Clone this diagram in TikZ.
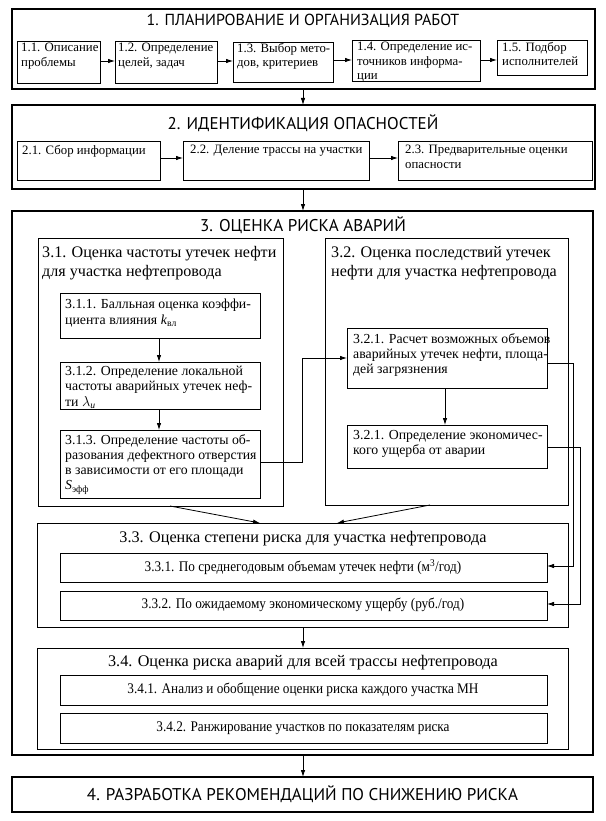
\documentclass[tikz,border=0pt]{standalone}
\usepackage{fontspec}
\setmainfont{Liberation Serif}
\newfontfamily\hfont{PT Sans}
\newfontfamily\nfont[FakeStretch=0.9]{Liberation Serif}
\usetikzlibrary{arrows.meta}
\tikzset{
  bx/.style={draw, line width=0.9pt, inner sep=0pt, outer sep=0pt},
  obx/.style={draw, line width=1.2pt, inner sep=0pt, outer sep=0pt},
  tx/.style={inner sep=0pt, anchor=north west, align=left, font=\fontsize{12.8}{14.5}\selectfont},
  tb/.style={inner sep=0pt, anchor=north west, align=left, font=\fontsize{13.8}{15.3}\selectfont},
  tt/.style={inner sep=0pt, anchor=north west, align=left, font=\fontsize{16.1}{19}\selectfont},
  tm/.style={inner sep=0pt, font=\fontsize{16.2}{18}\selectfont},
  tn/.style={inner sep=0pt, font=\nfont\fontsize{14.7}{16}\selectfont},
  hd/.style={inner sep=0pt, font=\hfont\fontsize{17}{19}\selectfont},
  arr/.style={line width=0.8pt, -{Latex[length=7pt,width=4.5pt]}},
}
\newcommand\bx[6][bx]{\node[#1, minimum width={#4-#2}, minimum height={#5-#3}] (#6) at ({(#2+#4)/2},{(#3+#5)/2}) {};}
\begin{document}
\begin{tikzpicture}[x=1pt,y=-1pt]
\useasboundingbox (0,0) rectangle (605,821);
\fill[white] (0,0) rectangle (605,821);
% ---------- section 1
\bx[obx]{12}{9}{595}{89}{s1}
\node[hd, font=\hfont\fontsize{16}{19}\selectfont] (t1) at (303,21) {1. ПЛАНИРОВАНИЕ И ОРГАНИЗАЦИЯ РАБОТ};
\bx{17}{41}{100}{83}{b11}
\bx{115}{41}{217}{83}{b12}
\bx{233}{42}{333}{82}{b13}
\bx{352}{40}{480}{81}{b14}
\bx{497}{40}{587}{75}{b15}
\node[tx] (x11) at (21,43) {1.1. Описание\\проблемы};
\node[tx] (x12) at (118,43) {1.2. Определение\\целей, задач};
\node[tx] (x13) at (237,43) {1.3. Выбор мето-\\дов, критериев};
\node[tx] (x14) at (357,42) {1.4. Определение ис-\\точников информа-\\ции};
\node[tx] (x15) at (502,42) {1.5. Подбор\\исполнителей};
% ---------- section 2
\bx[obx]{12}{105}{595}{189}{s2}
\node[hd] (t2) at (303,123) {2. ИДЕНТИФИКАЦИЯ ОПАСНОСТЕЙ};
\bx{17}{141}{160}{180}{b21}
\bx{183}{141}{369}{180}{b22}
\bx{398}{141}{592}{180}{b23}
\node[tx] (x21) at (22,145) {2.1. Сбор информации};
\node[tx] (x22) at (190,145) {2.2. Деление трассы на участки};
\node[tx] (x23) at (405,145) {2.3. Предварительные оценки\\опасности};
% ---------- section 3
\bx[obx]{12}{211}{593}{755}{s3}
\node[hd] (t3) at (303,225) {3. ОЦЕНКА РИСКА АВАРИЙ};
\bx{38}{238}{283}{506}{b31}
\node[tt] (x31) at (42,246) {3.1. Оценка частоты утечек нефти\\для участка нефтепровода};
\bx{60}{293}{260}{338}{b311}
\bx{60}{362}{260}{409}{b312}
\bx{60}{430}{260}{498}{b313}
\node[tb] (x311) at (65,299) {3.1.1. Балльная оценка коэффи-\\циента влияния \textit{k}\textsubscript{вл}};
\node[tb] (x312) at (65,366) {3.1.2. Определение локальной\\частоты аварийных утечек неф-\\ти $\lambda$\textsubscript{\textit{и}}};
\node[tb] (x313) at (65,434) {3.1.3. Определение частоты об-\\разования дефектного отверстия\\в зависимости от его площади\\\textit{S}\textsubscript{эфф}};
\bx{325}{238}{568}{505}{b32}
\node[tt] (x32) at (331,246) {3.2. Оценка последствий утечек\\нефти для участка нефтепровода};
\bx{347}{328}{547}{388}{b321}
\bx{347}{425}{547}{468}{b322}
\node[tb] (x321) at (353,333) {3.2.1. Расчет возможных объемов\\аварийных утечек нефти, площа-\\дей загрязнения};
\node[tb] (x322) at (353,430) {3.2.1. Определение экономичес-\\кого ущерба от аварии};
% 3.3
\bx{37}{523}{568}{627}{b33}
\node[tm] (x33) at (303,539) {3.3. Оценка степени риска для участка нефтепровода};
\bx{60}{553}{547}{582}{b331}
\bx{60}{591}{547}{620}{b332}
\node[tn] (x331) at (303,567) {3.3.1. По среднегодовым объемам утечек нефти (м\textsuperscript{3}/год)};
\node[tn] (x332) at (303,605) {3.3.2. По ожидаемому экономическому ущербу (руб./год)};
% 3.4
\bx{37}{648}{568}{749}{b34}
\node[tm] (x34) at (303,663) {3.4. Оценка риска аварий для всей трассы нефтепровода};
\bx{60}{675}{547}{705}{b341}
\bx{60}{713}{547}{743}{b342}
\node[tn] (x341) at (303,690) {3.4.1. Анализ и обобщение оценки риска каждого участка МН};
\node[tn] (x342) at (303,728) {3.4.2. Ранжирование участков по показателям риска};
% ---------- section 4
\node[obx, hd, minimum width=581, minimum height=35] (s4) at (302.5,794.5) {4. РАЗРАБОТКА РЕКОМЕНДАЦИЙ ПО СНИЖЕНИЮ РИСКА};
% ---------- connectors
\draw[arr] (b11.east |- 0,61) -- (b12.west |- 0,61);
\draw[arr] (b12.east |- 0,61) -- (b13.west |- 0,61);
\draw[arr] (b13.east |- 0,60) -- (b14.west |- 0,60);
\draw[arr] (b14.east |- 0,60) -- (b15.west |- 0,60);
\draw[arr] (s1.south -| 303,0) -- (s2.north -| 303,0);
\draw[arr] (b21.east |- 0,158) -- (b22.west |- 0,158);
\draw[arr] (b22.east |- 0,158) -- (b23.west |- 0,158);
\draw[arr] (s2.south -| 303,0) -- (s3.north -| 303,0);
\draw[arr] (b311.south -| 159,0) -- (b312.north -| 159,0);
\draw[arr] (b312.south -| 159,0) -- (b313.north -| 159,0);
\draw[arr] (b321.south -| 445,0) -- (b322.north -| 445,0);
\draw[arr] (b313.east |- 0,462) -| (302,358) -- (b321.west |- 0,358);
\draw[arr] (b321.east |- 0,363) -| (573,566) -- (b331.east |- 0,566);
\draw[arr] (b322.east |- 0,447) -| (580,604) -- (b332.east |- 0,604);
\draw[arr] (b31.south -| 170,0) -- (b33.north -| 260,0);
\draw[arr] (b32.south -| 430,0) -- (b33.north -| 337,0);
\draw[arr] (b33.south -| 303,0) -- (b34.north -| 303,0);
\draw[arr] (s3.south -| 303,0) -- (s4.north -| 303,0);
\end{tikzpicture}
\end{document}
